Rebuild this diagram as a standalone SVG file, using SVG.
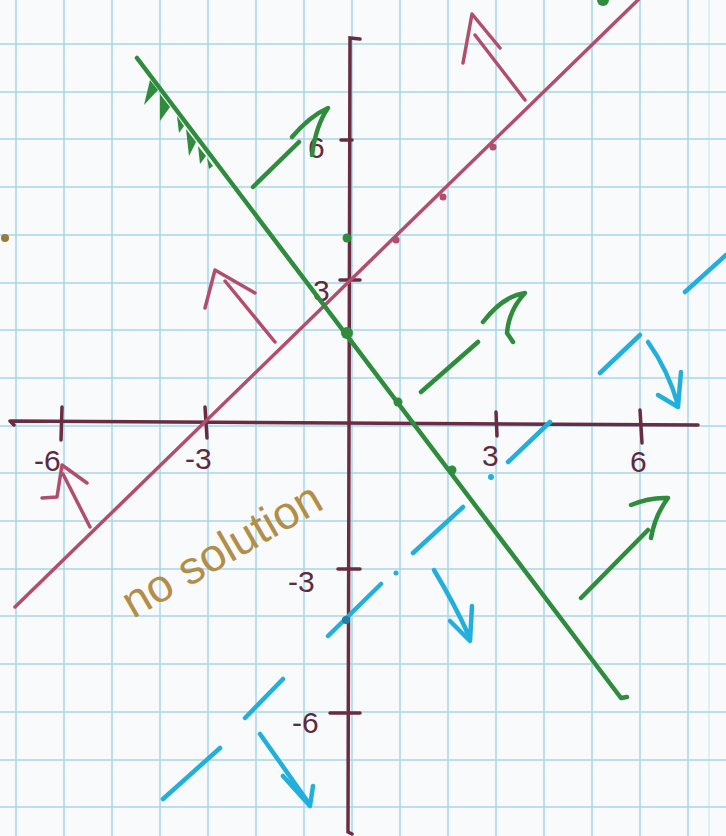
<svg xmlns="http://www.w3.org/2000/svg" width="726" height="836" viewBox="0 0 726 836">
<style>
.grid{stroke:#a6d6ea;stroke-width:1.5;fill:none}
.axis{stroke:#6a2c42;stroke-width:3.5;fill:none;stroke-linecap:round}
.red{stroke:#b24d6c;stroke-width:3.5;fill:none;stroke-linecap:round;stroke-linejoin:round}
.green{stroke:#2f8c3c;stroke-width:4.5;fill:none;stroke-linecap:round;stroke-linejoin:round}
.blue{stroke:#22afdc;stroke-width:4.5;fill:none;stroke-linecap:round;stroke-linejoin:round}
.lbl{font-family:"Liberation Sans",Arial,sans-serif;font-size:30px;fill:#5e2a3e}
.gold{font-family:"Liberation Sans",Arial,sans-serif;font-size:46px;fill:#b28e48}
</style>
<rect width="726" height="836" fill="#f8fafb"/>
<g id="grid">
<path class="grid" d="M16,0V836M64,0V836M112,0V836M160,0V836M208,0V836M256,0V836M304,0V836M352,0V836M400,0V836M448,0V836M496,0V836M544,0V836M592,0V836M640,0V836M688,0V836"/>
<path class="grid" d="M709,0V836" stroke-opacity="0.4"/>
<path class="grid" d="M0,44H726M0,92H726M0,139H726M0,187H726M0,235H726M0,283H726M0,330H726M0,378H726M0,426H726M0,473H726M0,521H726M0,569H726M0,616H726M0,664H726M0,712H726M0,760H726M0,807H726"/>
</g>
<g id="axes">
<path class="axis" d="M10,421 L698,425 M10,421 L14,425"/>
<path class="axis" d="M360,39 L350,38 L348,832 L352,834"/>
<path class="axis" d="M62,407 L61,440 M205,407 L207,438 M496,412 L497,436 M640,410 L642,443"/>
<path class="axis" d="M341,140 L352,140 M340,280 L360,280 M338,569 L360,569 M330,713 L360,713"/>
<text class="lbl" x="34" y="471">-6</text>
<text class="lbl" x="185" y="469">-3</text>
<text class="lbl" x="482" y="466">3</text>
<text class="lbl" x="630" y="472">6</text>
<text class="lbl" x="308" y="158">6</text>
<text class="lbl" x="313" y="301">3</text>
<text class="lbl" x="288" y="592">-3</text>
<text class="lbl" x="292" y="733">-6</text>
</g>
<g id="red-line">
<path class="red" d="M15,607 L640,-2"/>
<circle cx="396" cy="240" r="3.5" fill="#b24d6c"/>
<circle cx="443" cy="197" r="3.5" fill="#b24d6c"/>
<circle cx="493" cy="147" r="3.5" fill="#b24d6c"/>
<path class="red" d="M463,63 L472,14 L500,48 M475,35 L525,100"/>
<path class="red" d="M205,308 L215,270 L255,293 M225,281 L275,342"/>
<path class="red" d="M57,497 L62,465 L87,483 M63,474 L90,527 M42,498 L57,497"/>
</g>
<g id="green-line">
<path class="green" d="M137,58 L621,698 L627,697"/>
<path d="M150,80 L158,90 L144,105 Z M160,94 L170,107 L160,121 Z M177,116 L184,126 L179,133 Z M186,129 L196,142 L189,156 Z M198,146 L206,156 L200,164 Z M207,158 L213,166 L209,169 Z" fill="#2f8c3c"/>
<circle cx="347" cy="333" r="6" fill="#2f8c3c"/>
<circle cx="347" cy="238" r="4.5" fill="#2f8c3c"/>
<circle cx="398" cy="402" r="4.5" fill="#2f8c3c"/>
<circle cx="452" cy="470" r="4.5" fill="#2f8c3c"/>
<circle cx="603" cy="0" r="6" fill="#2f8c3c"/>
<path class="green" d="M253,187 L299,142 M292,137 Q310,116 328,108 Q316,125 312,155"/>
<path class="green" d="M421,392 L478,342 M483,322 Q503,296 525,293 Q509,310 507,333 L513,342"/>
<path class="green" d="M581,598 L648,530 M631,505 Q650,497 668,498 Q655,515 651,538"/>
</g>
<g id="blue-line">
<path class="blue" d="M685,292 L726,255 M600,373 L640,335 M508,462 L550,422 M413,553 L463,507 M328,636 L381,584 M245,718 L283,679 M163,799 L220,748"/>
<circle cx="491" cy="477" r="3" fill="#22afdc"/>
<circle cx="396" cy="573" r="2.5" fill="#22afdc"/>
<circle cx="346" cy="620" r="4" fill="#1e7fa8"/>
<path class="blue" d="M648,342 Q668,370 678,405 M658,395 L678,407 L681,372"/>
<path class="blue" d="M434,570 Q455,605 469,636 M450,621 L470,641 L472,606"/>
<path class="blue" d="M260,734 L308,802 M283,776 L310,806 L313,786"/>
</g>
<g id="note">
<text class="gold" x="133" y="619" transform="rotate(-30 133 619)">no solution</text>
<circle cx="5" cy="238" r="4" fill="#9a7a3c"/>
</g>
</svg>
